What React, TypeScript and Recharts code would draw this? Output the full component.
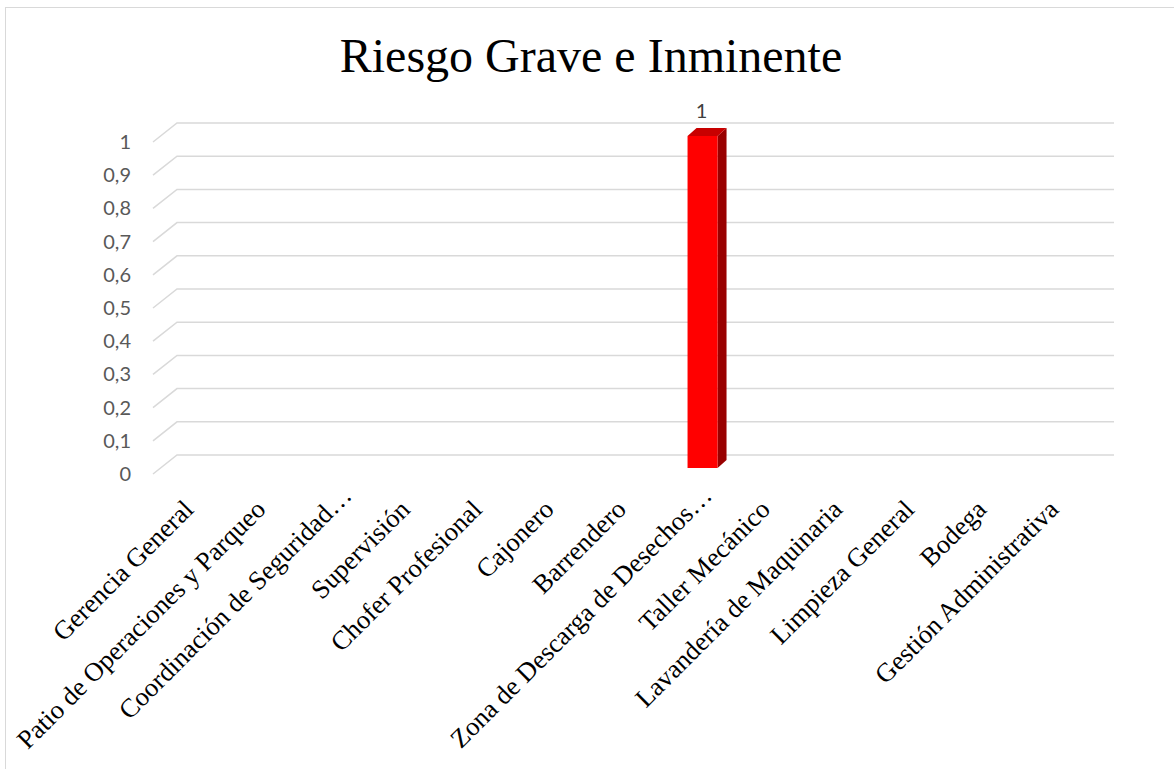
import React from "react";
import { BarChart, Bar, XAxis, YAxis, CartesianGrid, LabelList } from "recharts";

const categories = [
  "Gerencia General",
  "Patio de Operaciones y Parqueo",
  "Coordinación de Seguridad…",
  "Supervisión",
  "Chofer Profesional",
  "Cajonero",
  "Barrendero",
  "Zona de Descarga de Desechos…",
  "Taller Mecánico",
  "Lavandería de Maquinaria",
  "Limpieza General",
  "Bodega",
  "Gestión Administrativa",
];
const values = [0, 0, 0, 0, 0, 0, 0, 1, 0, 0, 0, 0, 0];
const yTicks = [0, 0.1, 0.2, 0.3, 0.4, 0.5, 0.6, 0.7, 0.8, 0.9, 1];
const title = "Riesgo Grave e Inminente";

const data = categories.map((name, i) => ({ name, value: values[i] }));

const DEPTH_X = 24;
const DEPTH_Y = 19;
const GRID = "#D9D9D9";

const GridLine = (props: any) => {
  const { x1, y1, x2 } = props;
  return (
    <path
      d={`M${x1},${y1} L${x1 + DEPTH_X},${y1 - DEPTH_Y} L${x2 + DEPTH_X},${y1 - DEPTH_Y}`}
      stroke={GRID}
      strokeWidth={1.5}
      fill="none"
    />
  );
};

const Bar3D = (props: any) => {
  const { x, y, width, height } = props;
  if (!height || height <= 0) return null;
  const fx = x + 9;
  const fy = y - 6;
  const dx = 9;
  const dy = 8;
  return (
    <g>
      <polygon
        points={`${fx + width},${fy} ${fx + width + dx},${fy - dy} ${fx + width + dx},${fy + height - dy} ${fx + width},${fy + height}`}
        fill="#990000"
      />
      <polygon
        points={`${fx},${fy} ${fx + dx},${fy - dy} ${fx + width + dx},${fy - dy} ${fx + width},${fy}`}
        fill="#C80000"
      />
      <rect x={fx} y={fy} width={width} height={height} fill="#FF0000" />
    </g>
  );
};

const ValueLabel = (props: any) => {
  const { x, y, width, value } = props;
  if (!value) return null;
  return (
    <text
      x={x + width / 2 + 8}
      y={y - 24}
      textAnchor="middle"
      fill="#404040"
      fontSize={20}
      fontFamily="Lato, 'Liberation Sans', sans-serif"
    >
      {String(value)}
    </text>
  );
};

const XTick = (props: any) => {
  const { x, y, payload } = props;
  const label = String(payload.value);
  const trunc = label.endsWith("…");
  const ox = trunc ? 20 : 6;
  const oy = trunc ? 15 : 29;
  return (
    <g transform={`translate(${x + ox},${y + oy})`}>
      <text
        transform="rotate(-45)"
        textAnchor="end"
        fill="#000000"
        fontSize={26.5}
        fontFamily="'Liberation Serif', 'Times New Roman', serif"
      >
        {label}
      </text>
    </g>
  );
};

const YTick = (props: any) => {
  const { y, payload } = props;
  return (
    <text
      x={131}
      y={y + 7}
      textAnchor="end"
      fill="#595959"
      fontSize={20}
      fontFamily="Lato, 'Liberation Sans', sans-serif"
    >
      {String(payload.value).replace(".", ",")}
    </text>
  );
};

export default function App() {
  return (
    <div
      style={{
        position: "absolute",
        left: 0,
        top: 0,
        width: 1174,
        height: 769,
        overflow: "hidden",
        background: "#fff",
      }}
    >
      <div
        style={{
          position: "absolute",
          left: 5,
          top: 7,
          width: 1169,
          height: 762,
          borderLeft: "1.5px solid #D9D9D9",
          borderTop: "1.5px solid #D9D9D9",
          boxSizing: "border-box",
        }}
      />
      <div
        style={{
          position: "absolute",
          left: 0,
          top: 27,
          width: 1182,
          textAlign: "center",
          fontFamily: "'Liberation Serif', 'Times New Roman', serif",
          fontSize: 48,
          color: "#000",
          lineHeight: "58px",
        }}
      >
        {title}
      </div>
      <div style={{ position: "absolute", left: 0, top: 0 }}>
        <BarChart
          width={1174}
          height={769}
          data={data}
          margin={{ top: 142, right: 84, bottom: 235, left: 0 }}
          barSize={30}
        >
          <CartesianGrid vertical={false} horizontal={<GridLine />} stroke={GRID} />
          <XAxis
            dataKey="name"
            interval={0}
            tickLine={false}
            axisLine={false}
            tick={<XTick />}
            height={60}
          />
          <YAxis
            width={153}
            domain={[0, 1]}
            ticks={yTicks}
            tickLine={false}
            axisLine={false}
            tick={<YTick />}
          />
          <Bar dataKey="value" isAnimationActive={false} shape={<Bar3D />}>
            <LabelList dataKey="value" content={<ValueLabel />} />
          </Bar>
        </BarChart>
      </div>
    </div>
  );
}
